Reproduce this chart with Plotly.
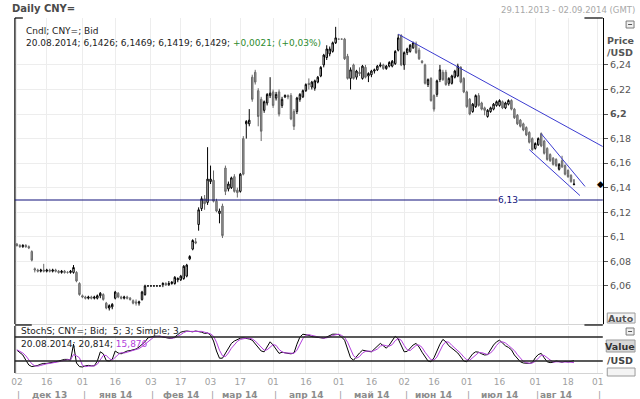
import pandas as pd
import plotly.graph_objects as go

# ---------------- data ----------------
first_day, last_day = "2013-12-02", "2014-08-20"
dates = pd.bdate_range(first_day, last_day)

open_px = [
    6.094, 6.093, 6.092, 6.093, 6.092, 6.088, 6.074, 6.073, 6.072, 6.073, 6.072, 6.073, 6.072, 6.073, 6.072, 6.071, 6.072, 6.071, 6.071, 6.071, 6.071, 6.062,
    6.052, 6.051, 6.050, 6.051, 6.050, 6.050, 6.052, 6.053, 6.046, 6.042, 6.043, 6.050, 6.054, 6.051, 6.050, 6.051, 6.050, 6.048, 6.047, 6.046, 6.049, 6.053, 6.060,
    6.060, 6.060, 6.060, 6.060, 6.061, 6.062, 6.061, 6.062, 6.062, 6.065, 6.065, 6.066, 6.068, 6.082, 6.090, 6.096, 6.110, 6.123, 6.131, 6.128,
    6.145, 6.146, 6.129, 6.119, 6.125, 6.156, 6.139, 6.140, 6.149, 6.138, 6.137, 6.180, 6.192, 6.192, 6.230, 6.234, 6.219, 6.212, 6.203, 6.209, 6.215,
    6.218, 6.213, 6.218, 6.207, 6.214, 6.215, 6.215, 6.202, 6.202, 6.212, 6.214, 6.219, 6.225, 6.222, 6.221, 6.226, 6.231, 6.240, 6.246, 6.249, 6.251, 6.258,
    6.261, 6.261, 6.261, 6.247, 6.229, 6.240, 6.230, 6.234, 6.229, 6.238, 6.231, 6.232, 6.235, 6.236, 6.239, 6.240, 6.237, 6.239, 6.239, 6.241, 6.252, 6.264,
    6.240, 6.250, 6.251, 6.254, 6.257, 6.252, 6.243, 6.240, 6.224, 6.229, 6.215, 6.216, 6.228, 6.234, 6.234, 6.225, 6.225, 6.230, 6.231, 6.238, 6.229,
    6.218, 6.212, 6.202, 6.206, 6.215, 6.209, 6.205, 6.198, 6.202, 6.204, 6.207, 6.207, 6.210, 6.205, 6.208, 6.211, 6.204, 6.199, 6.195, 6.192, 6.189, 6.185, 6.180,
    6.172, 6.175, 6.184, 6.178, 6.172, 6.167, 6.164, 6.163, 6.155, 6.162, 6.158, 6.154, 6.150, 6.1426,
]
high_px = [
    6.095, 6.094, 6.094, 6.094, 6.093, 6.089, 6.075, 6.074, 6.074, 6.078, 6.074, 6.074, 6.074, 6.074, 6.073, 6.073, 6.073, 6.072, 6.073, 6.077, 6.072, 6.063,
    6.053, 6.052, 6.052, 6.052, 6.052, 6.053, 6.055, 6.054, 6.047, 6.045, 6.046, 6.056, 6.055, 6.052, 6.052, 6.052, 6.051, 6.049, 6.049, 6.048, 6.056, 6.061, 6.060,
    6.060, 6.060, 6.060, 6.060, 6.063, 6.063, 6.064, 6.064, 6.068, 6.067, 6.069, 6.077, 6.078, 6.085, 6.098, 6.099, 6.124, 6.133, 6.134, 6.173,
    6.158, 6.154, 6.131, 6.123, 6.127, 6.158, 6.145, 6.149, 6.151, 6.140, 6.152, 6.182, 6.195, 6.204, 6.232, 6.236, 6.221, 6.214, 6.211, 6.217, 6.230,
    6.220, 6.218, 6.220, 6.214, 6.216, 6.216, 6.217, 6.204, 6.214, 6.217, 6.220, 6.225, 6.229, 6.227, 6.228, 6.231, 6.239, 6.249, 6.256, 6.255, 6.259, 6.271,
    6.261, 6.261, 6.262, 6.249, 6.238, 6.241, 6.236, 6.238, 6.240, 6.240, 6.234, 6.236, 6.237, 6.240, 6.242, 6.241, 6.240, 6.243, 6.244, 6.252, 6.265, 6.265,
    6.251, 6.254, 6.257, 6.259, 6.259, 6.254, 6.244, 6.241, 6.229, 6.230, 6.216, 6.228, 6.240, 6.236, 6.236, 6.230, 6.232, 6.236, 6.241, 6.239, 6.230,
    6.219, 6.213, 6.209, 6.216, 6.217, 6.210, 6.206, 6.204, 6.206, 6.209, 6.211, 6.212, 6.211, 6.210, 6.212, 6.212, 6.205, 6.200, 6.196, 6.193, 6.190, 6.186, 6.181,
    6.177, 6.181, 6.185, 6.179, 6.173, 6.168, 6.165, 6.164, 6.160, 6.166, 6.159, 6.155, 6.151, 6.1469,
]
low_px = [
    6.092, 6.091, 6.091, 6.091, 6.090, 6.080, 6.071, 6.071, 6.071, 6.071, 6.071, 6.071, 6.071, 6.071, 6.070, 6.070, 6.070, 6.070, 6.070, 6.070, 6.063, 6.052,
    6.050, 6.049, 6.049, 6.049, 6.049, 6.049, 6.050, 6.048, 6.041, 6.040, 6.041, 6.049, 6.050, 6.049, 6.049, 6.049, 6.048, 6.045, 6.044, 6.044, 6.048, 6.052, 6.060,
    6.060, 6.060, 6.060, 6.060, 6.059, 6.060, 6.060, 6.061, 6.061, 6.063, 6.064, 6.065, 6.067, 6.081, 6.089, 6.094, 6.105, 6.121, 6.122, 6.126,
    6.143, 6.128, 6.120, 6.111, 6.099, 6.134, 6.137, 6.139, 6.136, 6.132, 6.136, 6.150, 6.180, 6.190, 6.210, 6.224, 6.190, 6.178, 6.201, 6.207, 6.213,
    6.205, 6.211, 6.198, 6.205, 6.213, 6.212, 6.195, 6.187, 6.200, 6.210, 6.213, 6.218, 6.220, 6.220, 6.219, 6.225, 6.230, 6.238, 6.244, 6.247, 6.250, 6.257,
    6.261, 6.261, 6.244, 6.228, 6.220, 6.228, 6.228, 6.231, 6.228, 6.229, 6.226, 6.230, 6.233, 6.235, 6.238, 6.236, 6.236, 6.238, 6.238, 6.240, 6.251, 6.239,
    6.236, 6.248, 6.250, 6.253, 6.249, 6.244, 6.241, 6.224, 6.222, 6.210, 6.202, 6.214, 6.226, 6.227, 6.223, 6.223, 6.224, 6.229, 6.230, 6.225, 6.217,
    6.205, 6.199, 6.201, 6.205, 6.206, 6.203, 6.199, 6.197, 6.201, 6.203, 6.206, 6.206, 6.204, 6.204, 6.207, 6.203, 6.196, 6.191, 6.189, 6.186, 6.182, 6.176, 6.170,
    6.171, 6.174, 6.173, 6.167, 6.162, 6.161, 6.158, 6.157, 6.154, 6.156, 6.150, 6.148, 6.144, 6.1419,
]
close_px = [
    6.093, 6.092, 6.093, 6.092, 6.091, 6.081, 6.073, 6.072, 6.073, 6.072, 6.073, 6.072, 6.073, 6.072, 6.071, 6.072, 6.071, 6.071, 6.072, 6.075, 6.064, 6.053,
    6.051, 6.050, 6.051, 6.050, 6.051, 6.052, 6.054, 6.049, 6.042, 6.044, 6.045, 6.055, 6.051, 6.050, 6.051, 6.050, 6.049, 6.046, 6.046, 6.047, 6.055, 6.060, 6.060,
    6.060, 6.060, 6.060, 6.060, 6.062, 6.061, 6.062, 6.063, 6.067, 6.066, 6.068, 6.076, 6.077, 6.084, 6.097, 6.095, 6.122, 6.131, 6.127, 6.147,
    6.147, 6.129, 6.121, 6.121, 6.101, 6.137, 6.143, 6.148, 6.137, 6.136, 6.151, 6.151, 6.194, 6.195, 6.212, 6.226, 6.198, 6.186, 6.210, 6.216, 6.217,
    6.207, 6.216, 6.200, 6.212, 6.215, 6.214, 6.196, 6.190, 6.213, 6.216, 6.219, 6.224, 6.224, 6.226, 6.227, 6.230, 6.238, 6.248, 6.253, 6.253, 6.258, 6.262,
    6.261, 6.261, 6.245, 6.229, 6.236, 6.229, 6.235, 6.233, 6.239, 6.230, 6.233, 6.235, 6.236, 6.239, 6.240, 6.237, 6.239, 6.242, 6.243, 6.251, 6.262, 6.240,
    6.250, 6.253, 6.256, 6.258, 6.250, 6.245, 6.242, 6.225, 6.228, 6.211, 6.204, 6.227, 6.236, 6.228, 6.224, 6.229, 6.231, 6.235, 6.239, 6.226, 6.218,
    6.206, 6.200, 6.208, 6.215, 6.207, 6.204, 6.203, 6.203, 6.205, 6.208, 6.210, 6.211, 6.205, 6.209, 6.211, 6.204, 6.197, 6.192, 6.190, 6.187, 6.183, 6.177, 6.171,
    6.176, 6.180, 6.174, 6.168, 6.163, 6.162, 6.159, 6.158, 6.159, 6.157, 6.151, 6.149, 6.145, 6.1429,
]

stoch_k = [
    47, 42, 35, 22, 10, 6, 7, 9, 12, 14, 14, 15, 17, 18, 20, 22, 24, 24, 22, 62,
    15, 6, 5, 8, 9, 8, 8, 20, 43, 38, 21, 20, 24, 45, 40, 38, 42, 45, 46, 48,
    50, 55, 62, 68, 78, 80, 82, 82, 82, 80, 78, 77, 77, 80, 86, 92, 94, 95, 94, 93,
    95, 94, 92, 89, 90, 85, 70, 45, 27, 27, 40, 52, 64, 70, 74, 77, 78, 77, 75, 72,
    62, 52, 45, 43, 55, 68, 60, 48, 39, 42, 40, 39, 38, 40, 62, 80, 87, 86, 84, 81,
    80, 78, 77, 77, 80, 84, 87, 87, 86, 80, 72, 50, 28, 22, 32, 40, 47, 45, 44, 43,
    50, 58, 64, 58, 52, 60, 72, 82, 75, 58, 43, 44, 52, 60, 64, 55, 42, 30, 20, 18,
    28, 45, 62, 74, 68, 58, 52, 48, 40, 30, 20, 18, 28, 38, 43, 42, 38, 35, 36, 48,
    60, 68, 72, 65, 58, 54, 48, 35, 25, 18, 15, 14, 14, 16, 28, 36, 39, 28, 18, 16,
    17, 20, 18, 17, 19, 18, 19, 20.814,
]
stoch_d = [
    48, 45, 40, 33, 22, 13, 8, 7, 9, 12, 13, 14, 15, 17, 18, 20, 22, 23, 23, 36,
    33, 28, 9, 6, 7, 8, 8, 12, 24, 34, 34, 26, 22, 30, 36, 41, 40, 42, 44, 46,
    48, 51, 56, 62, 69, 75, 80, 81, 82, 81, 80, 78, 77, 78, 81, 86, 91, 94, 94, 94,
    94, 94, 94, 92, 90, 88, 82, 67, 47, 33, 31, 40, 52, 62, 69, 74, 76, 77, 77, 75,
    70, 62, 53, 47, 48, 55, 61, 59, 49, 43, 40, 40, 39, 39, 47, 61, 76, 84, 86, 84,
    82, 80, 78, 77, 78, 80, 84, 86, 87, 84, 79, 67, 50, 33, 27, 31, 40, 44, 45, 44,
    46, 50, 57, 60, 58, 57, 61, 71, 76, 72, 59, 48, 46, 52, 59, 60, 54, 42, 31, 23,
    22, 30, 45, 60, 68, 67, 59, 53, 47, 39, 30, 23, 22, 28, 36, 41, 41, 38, 36, 40,
    48, 59, 67, 68, 65, 59, 53, 46, 36, 26, 19, 16, 14, 15, 19, 27, 34, 34, 28, 21,
    17, 18, 18, 18, 18, 18, 17, 15.876,
]

price_ticks = [6.06, 6.08, 6.10, 6.12, 6.14, 6.16, 6.18, 6.20, 6.22, 6.24]
price_tick_text = ["6,06", "6,08", "6,1", "6,12", "6,14", "6,16", "6,18", "<b>6,2</b>", "6,22", "6,24"]
date_ticks = ["2013-12-02", "2013-12-16", "2014-01-01", "2014-01-16", "2014-02-03", "2014-02-17",
              "2014-03-03", "2014-03-17", "2014-04-01", "2014-04-16", "2014-05-01", "2014-05-16",
              "2014-06-02", "2014-06-16", "2014-07-01", "2014-07-16", "2014-08-01", "2014-08-18", "2014-09-01"]
date_tick_text = ["02", "16", "01", "16", "03", "17", "03", "17", "01", "16", "01", "16",
                  "02", "16", "01", "16", "01", "18", "01"]
month_starts = ["2013-12-02", "2014-01-01", "2014-02-03", "2014-03-03", "2014-04-01", "2014-05-01",
                "2014-06-02", "2014-07-01", "2014-08-01", "2014-09-01"]
month_labels = ["дек 13", "янв 14", "фев 14", "мар 14", "апр 14", "май 14", "июн 14", "июл 14", "авг 14"]

support_level = 6.13
trend_main = (("2014-05-29", 6.265), ("2014-09-02 16:00", 6.1735))
channel_top = (("2014-08-05", 6.184), ("2014-08-25 17:00", 6.141))
channel_bottom = (("2014-07-30", 6.171), ("2014-08-22", 6.1336))
stoch_levels = [80, 20]

# ---------------- figure ----------------
W, H = 640, 399
FONT = "DejaVu Sans"
def px(x):
    return x / W
def py(y):
    return 1 - y / H

X0, X1 = 11, 603.5
MAIN_T, MAIN_B = 18, 324
ST_T, ST_B = 326, 373

fig = go.Figure()
fig.add_trace(go.Candlestick(
    x=dates, open=open_px, high=high_px, low=low_px, close=close_px,
    increasing=dict(line=dict(color="#000000", width=1), fillcolor="#ffffff"),
    decreasing=dict(line=dict(color="#6a6a6a", width=1), fillcolor="#9a9a9a"),
    whiskerwidth=0, hoverinfo="skip", showlegend=False, xaxis="x", yaxis="y"))
fig.add_trace(go.Scatter(x=dates, y=stoch_k, mode="lines", line=dict(color="#000000", width=1),
                         hoverinfo="skip", showlegend=False, xaxis="x2", yaxis="y2"))
fig.add_trace(go.Scatter(x=dates, y=stoch_d, mode="lines", line=dict(color="#b23fdc", width=1),
                         hoverinfo="skip", showlegend=False, xaxis="x2", yaxis="y2"))

xr = ["2013-11-29 08:00", "2014-09-02 16:00"]
rb = [dict(bounds=["sat", "mon"])]
common_x = dict(type="date", range=xr, rangebreaks=rb, domain=[px(X0), px(X1)],
                tickvals=date_ticks, showgrid=True, gridcolor="#ededed", gridwidth=1,
                zeroline=False, fixedrange=True)
fig.update_layout(
    width=W, height=H, margin=dict(l=0, r=0, t=0, b=0),
    paper_bgcolor="white", plot_bgcolor="white",
    font=dict(family=FONT, size=9, color="#555555"),
    xaxis=dict(**common_x, anchor="y", showticklabels=False, showline=True, linecolor="#d4d4d4",
               rangeslider=dict(visible=False)),
    xaxis2=dict(**common_x, anchor="y2", matches="x", ticktext=date_tick_text, showticklabels=True,
                ticks="", tickfont=dict(family=FONT, size=9, color="#a0a0a0"),
                showline=True, linecolor="#d4d4d4"),
    yaxis=dict(domain=[py(MAIN_B), py(MAIN_T)], range=[6.029, 6.2782], side="right", anchor="x",
               tickvals=price_ticks, ticktext=price_tick_text, ticks="outside", ticklen=4,
               tickcolor="#555555", showline=True, linecolor="#000000", linewidth=1.2,
               showgrid=True, gridcolor="#ededed", zeroline=False,
               tickfont=dict(family=FONT, size=9.5, color="#555555"), fixedrange=True),
    yaxis2=dict(domain=[py(ST_B), py(ST_T)], range=[-10, 107.5], side="right", anchor="x2",
                showticklabels=False, showgrid=False, zeroline=False, showline=False, fixedrange=True),
    showlegend=False, hovermode=False,
)

shapes = []
# frame lines
for (t, b) in [(MAIN_T, MAIN_B), (ST_T, ST_B)]:
    shapes.append(dict(type="line", xref="paper", yref="paper", x0=px(X0), x1=px(X0), y0=py(t), y1=py(b),
                       line=dict(color="#000000", width=1.2)))
shapes.append(dict(type="line", xref="paper", yref="paper", x0=px(X0), x1=px(X0 + 8), y0=py(MAIN_T), y1=py(MAIN_T),
                   line=dict(color="#000000", width=1.2)))
shapes.append(dict(type="line", xref="paper", yref="paper", x0=px(585), x1=px(X1), y0=py(MAIN_T), y1=py(MAIN_T),
                   line=dict(color="#000000", width=1.2)))
shapes.append(dict(type="line", xref="paper", yref="paper", x0=px(585), x1=px(X1), y0=py(MAIN_B + 1), y1=py(MAIN_B + 1),
                   line=dict(color="#000000", width=1.2)))
shapes.append(dict(type="line", xref="paper", yref="paper", x0=px(X0), x1=px(X0 + 17), y0=py(MAIN_B + 1), y1=py(MAIN_B + 1),
                   line=dict(color="#000000", width=1.2)))
# support level
shapes.append(dict(type="line", xref="x domain", yref="y", x0=0, x1=1, y0=support_level, y1=support_level,
                   line=dict(color="#10107a", width=1.2)))
# trend lines
for (a, b) in [trend_main, channel_top, channel_bottom]:
    shapes.append(dict(type="line", xref="x", yref="y", x0=a[0], y0=a[1], x1=b[0], y1=b[1],
                       line=dict(color="#3c3cd0", width=1)))
# stochastic levels
for lv in stoch_levels:
    shapes.append(dict(type="line", xref="x2 domain", yref="y2", x0=0, x1=1, y0=lv, y1=lv,
                       line=dict(color="#222222", width=1.3)))
# right-side widgets
for (cy) in [24.5, 331.5]:
    shapes.append(dict(type="rect", xref="paper", yref="paper", x0=px(627), x1=px(635), y0=py(cy - 3.5), y1=py(cy + 3.5),
                       line=dict(color="#7a7a7a", width=1), fillcolor="#f0f0f0"))
    shapes.append(dict(type="line", xref="paper", yref="paper", x0=px(629), x1=px(633), y0=py(cy), y1=py(cy),
                       line=dict(color="#555555", width=1)))
shapes.append(dict(type="rect", xref="paper", yref="paper", x0=px(608), x1=px(636), y0=py(323), y1=py(313),
                   line=dict(color="#9a9a9a", width=1), fillcolor="#f4f4f4"))
shapes.append(dict(type="rect", xref="paper", yref="paper", x0=px(607), x1=px(636), y0=py(352), y1=py(340),
                   line=dict(color="#9a9a9a", width=1), fillcolor="#d8d8d8"))
shapes.append(dict(type="rect", xref="paper", yref="paper", x0=px(608), x1=px(636), y0=py(376), y1=py(368),
                   line=dict(color="#9a9a9a", width=1), fillcolor="#f4f4f4"))
fig.update_layout(shapes=shapes)

ann = []
def text(x, y, s, size=9, color="#333333", bold=False, anchor="left", **kw):
    ann.append(dict(xref="paper", yref="paper", x=px(x), y=py(y), text=("<b>%s</b>" % s) if bold else s,
                    showarrow=False, xanchor=anchor, yanchor="middle",
                    font=dict(family=FONT, size=size, color=color), **kw))

text(6, 9, "Daily CNY=", size=10, color="#4a4a4a", bold=True)
text(638, 10, "29.11.2013 - 02.09.2014 (GMT)", size=8.5, color="#a8a8a8", anchor="right")
text(20, 31, "Cndl; CNY=; Bid", color="#222222")
last = len(close_px) - 1
text(20, 43, "%s; %s; %s; %s; %s; <span style='color:#2e8b2e'>+0,0021; (+0,03%%)</span>" % (
    dates[last].strftime("%d.%m.%Y"),
    ("%.4f" % open_px[last]).replace(".", ","), ("%.4f" % high_px[last]).replace(".", ","),
    ("%.4f" % low_px[last]).replace(".", ","), ("%.4f" % close_px[last]).replace(".", ",")), color="#222222")
text(15, 331, "StochS; CNY=; Bid;  5; 3; Simple; 3", color="#222222")
text(15, 344, "%s; %s; <span style='color:#b23fdc'>%s</span>" % (
    dates[last].strftime("%d.%m.%Y"), ("%.3f" % stoch_k[last]).replace(".", ","),
    ("%.3f" % stoch_d[last]).replace(".", ",")), color="#222222")
text(621, 40, "Price", size=9.5, color="#555555", bold=True, anchor="center")
text(621, 53, "/USD", size=9.5, color="#555555", bold=True, anchor="center")
text(622, 318, "Auto", size=9.5, color="#555555", bold=True, anchor="center")
text(621, 346, "Value", size=9.5, color="#333333", bold=True, anchor="center")
text(621, 360, "/USD", size=9.5, color="#444444", bold=True, anchor="center")

# support label
ann.append(dict(xref="x", yref="y", x=dates[165], y=support_level, text="6,13", showarrow=False,
                font=dict(family=FONT, size=9, color="#10107a"), bgcolor="white", borderpad=0))
# last price marker
ann.append(dict(xref="paper", yref="y", x=px(607), y=close_px[last], text="◆", showarrow=False,
                font=dict(family=FONT, size=9, color="#000000")))
# month labels and separators
ms = pd.to_datetime(month_starts)
for k, lab in enumerate(month_labels):
    idx = [i for i, d in enumerate(dates) if ms[k] <= d < ms[k + 1]]
    i0 = idx[0]
    i1 = idx[-1] + 1
    mid = dates[0] + pd.tseries.offsets.BDay((i0 + i1) // 2)
    ann.append(dict(xref="x2", yref="paper", x=mid, y=py(395), text="<b>%s</b>" % lab, showarrow=False,
                    yanchor="middle", font=dict(family=FONT, size=9, color="#8c8c8c")))
for m in month_starts:
    ann.append(dict(xref="x2", yref="paper", x=m, y=py(395), text="|", showarrow=False, xshift=2,
                    yanchor="middle", font=dict(family=FONT, size=9, color="#9a9a9a")))
fig.update_layout(annotations=ann)

fig.write_html("out.html", config=dict(displayModeBar=False, staticPlot=True),
               post_script="document.body.style.margin='0';document.body.style.overflow='hidden';")
